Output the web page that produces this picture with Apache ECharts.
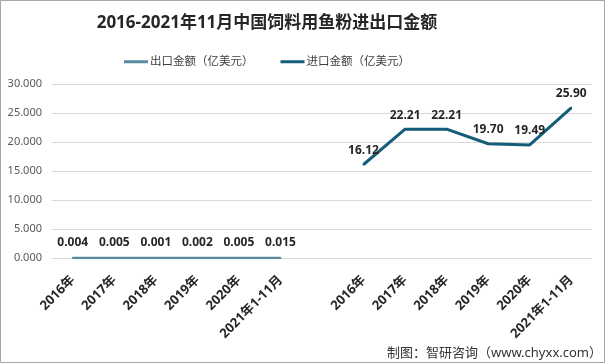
<!DOCTYPE html>
<html><head><meta charset="utf-8">
<script src="https://cdn.jsdelivr.net/npm/echarts@6/dist/echarts.min.js"></script>
<style>html,body{margin:0;padding:0;background:#fff}#c{width:605px;height:363px}</style>
</head><body><div id="c"></div>
<script>
const years = ['2016年','2017年','2018年','2019年','2020年','2021年1-11月'];
const exportValues = [0.004, 0.005, 0.001, 0.002, 0.005, 0.015];
const importValues = [16.12, 22.21, 22.21, 19.70, 19.49, 25.90];
const seriesNames = ['出口金额（亿美元）', '进口金额（亿美元）'];
const yTicks = {min: 0, max: 30, interval: 5};

const categories = years.concat(['']).concat(years).map((c, i) => i < 6 ? c : (i === 6 ? ' ' : c + '\u200b'));
const pad = new Array(years.length + 1).fill(null);
const exportData = exportValues.concat(pad);
const importData = pad.concat(importValues);
const colors = ['#5a8aa0', '#145c78'];

const font = '"Noto Sans", "Noto Sans CJK SC", sans-serif';
const chart = echarts.init(document.getElementById('c'));
function fmt(d) { return p => (p.value == null || isNaN(p.value)) ? '' : Number(p.value).toFixed(d); }
chart.setOption({
  animation: false,
  textStyle: {fontFamily: font},
  title: {
    text: '2016-2021年11月中国饲料用鱼粉进出口金额',
    left: 262, top: 10, textAlign: 'center',
    textStyle: {fontSize: 17, fontWeight: 'bold', color: '#262626', fontFamily: font}
  },
  legend: {
    left: 119, top: 51,
    itemWidth: 24, itemHeight: 3, itemGap: 27, icon: 'rect',
    textStyle: {fontSize: 11.5, color: '#404040', padding: [0,0,0,-3]},
    data: [
      {name: seriesNames[0], itemStyle: {color: colors[0], opacity: 1}},
      {name: seriesNames[1], itemStyle: {color: colors[1], opacity: 1}}
    ]
  },
  grid: {left: 52, right: 13, top: 84, bottom: 105},
  xAxis: {
    type: 'category', data: categories, boundaryGap: true,
    axisLine: {show: false}, axisTick: {show: false},
    axisLabel: {rotate: 45, interval: 0, fontSize: 13, fontWeight: 'bold', color: '#262626', margin: 20,
      formatter: v => v.replace('\u200b','')}
  },
  yAxis: {
    type: 'value', min: yTicks.min, max: yTicks.max, interval: yTicks.interval,
    axisLine: {show: false}, axisTick: {show: false},
    splitLine: {lineStyle: {color: '#d9d9d9', width: 1}},
    axisLabel: {fontSize: 11, color: '#595959', margin: 10, formatter: v => v.toFixed(3)}
  },
  series: [
    {name: seriesNames[0], type: 'line', data: exportData, symbol: 'circle', symbolSize: 2, showSymbol: true,
      color: colors[0], itemStyle: {color: colors[0]}, lineStyle: {width: 2.5, color: colors[0]},
      label: {show: true, position: 'top', distance: 8, fontSize: 12, fontWeight: 'bold', color: '#262626',
        formatter: fmt(3)}},
    {name: seriesNames[1], type: 'line', data: importData, symbol: 'circle', symbolSize: 2, showSymbol: true,
      color: colors[1], itemStyle: {color: colors[1]}, lineStyle: {width: 3, color: colors[1]},
      label: {show: true, position: 'top', distance: 7, fontSize: 12, fontWeight: 'bold', color: '#262626',
        formatter: fmt(2)}}
  ],
  graphic: [
    {type: 'rect', shape: {x: 0.5, y: 0.5, width: 604, height: 362}, style: {fill: 'none', stroke: '#a6a6a6', lineWidth: 1}, silent: true},
    {type: 'text', right: 3, bottom: 3, style: {text: '制图：智研咨询（www.chyxx.com）', fontSize: 13, fill: '#333', fontFamily: font}}
  ]
});
</script></body></html>
